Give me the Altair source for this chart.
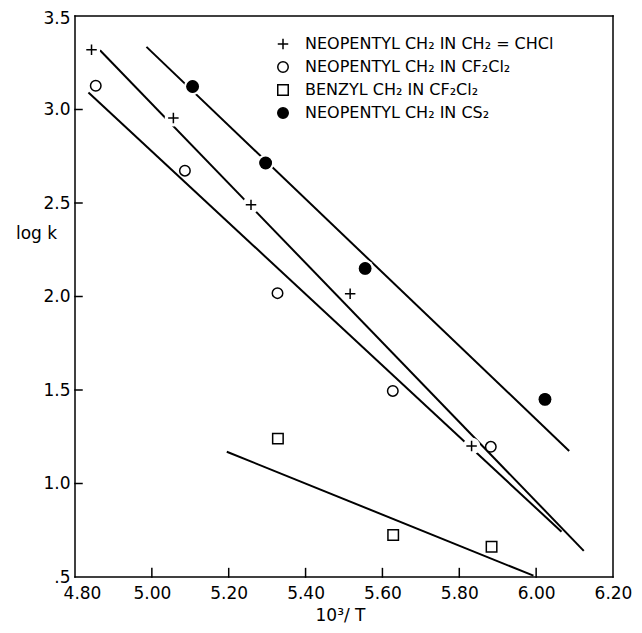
import altair as alt
import pandas as pd

LABELS = [
    "NEOPENTYL CH₂ IN CH₂ = CHCl",
    "NEOPENTYL CH₂ IN CF₂Cl₂",
    "BENZYL CH₂ IN CF₂Cl₂",
    "NEOPENTYL CH₂ IN CS₂",
]

# data points (10^3/T, log k)
plus_x = [4.843, 5.056, 5.258, 5.516, 5.832]
plus_y = [3.32, 2.955, 2.49, 2.015, 1.20]
open_x = [4.854, 5.086, 5.327, 5.627, 5.882]
open_y = [3.127, 2.673, 2.018, 1.495, 1.196]
sq_x = [5.328, 5.628, 5.884]
sq_y = [1.24, 0.724, 0.662]
fill_x = [5.106, 5.296, 5.555, 6.023]
fill_y = [3.123, 2.714, 2.15, 1.450]

# fitted lines (end points)
line_plus_x = [4.865, 6.124]
line_plus_y = [3.317, 0.640]
line_open_x = [4.835, 6.066]
line_open_y = [3.091, 0.742]
line_sq_x = [5.195, 5.993]
line_sq_y = [1.17, 0.507]
line_fill_x = [4.986, 6.086]
line_fill_y = [3.335, 1.174]

x_labels = [4.8, 5.0, 5.2, 5.4, 5.6, 5.8, 6.0, 6.2]
y_labels = [0.5, 1.0, 1.5, 2.0, 2.5, 3.0, 3.5]
x_ticks = [5.0, 5.2, 5.4, 5.6, 5.8, 6.0]
y_ticks = [1.0, 1.5, 2.0, 2.5, 3.0]
X_MIN, X_MAX, Y_MIN, Y_MAX = 4.8, 6.2, 0.5, 3.5

rows = []
for lab, xs_, ys_ in zip(LABELS, [plus_x, open_x, sq_x, fill_x], [plus_y, open_y, sq_y, fill_y]):
    for a, b in zip(xs_, ys_):
        rows.append({"series": lab, "x": a, "y": b})
pts = pd.DataFrame(rows)

lrows = []
for lab, xs_, ys_ in zip(LABELS, [line_plus_x, line_open_x, line_sq_x, line_fill_x],
                         [line_plus_y, line_open_y, line_sq_y, line_fill_y]):
    for a, b in zip(xs_, ys_):
        lrows.append({"series": lab, "x": a, "y": b})
lines = pd.DataFrame(lrows)

# frame and short inward tick segments (tick length as a fraction of the axis span)
trows = []
frame = [("b", X_MIN, Y_MIN, X_MAX, Y_MIN), ("r", X_MAX, Y_MIN, X_MAX, Y_MAX),
         ("t", X_MIN, Y_MAX, X_MAX, Y_MAX), ("l", X_MIN, Y_MIN, X_MIN, Y_MAX)]
for name, x0, y0, x1, y1 in frame:
    trows.append({"seg": "f" + name, "o": 0, "x": x0, "y": y0})
    trows.append({"seg": "f" + name, "o": 1, "x": x1, "y": y1})
for v in x_ticks:
    trows.append({"seg": f"x{v}", "o": 0, "x": v, "y": Y_MIN})
    trows.append({"seg": f"x{v}", "o": 1, "x": v, "y": Y_MIN + (Y_MAX - Y_MIN) * 0.015})
for v in y_ticks:
    trows.append({"seg": f"y{v}", "o": 0, "x": X_MIN, "y": v})
    trows.append({"seg": f"y{v}", "o": 1, "x": X_MIN + (X_MAX - X_MIN) * 0.013, "y": v})
segs = pd.DataFrame(trows)

W, H = 538, 561
FONT = "DejaVu Sans"

xs = alt.Scale(domain=[X_MIN, X_MAX], nice=False, zero=False)
ys = alt.Scale(domain=[Y_MIN, Y_MAX], nice=False, zero=False)

xaxis = alt.Axis(values=x_labels, format=".2f", title="10³/ T", labelPadding=8,
                 labelOffset={"condition": {"test": "datum.value < 4.9", "value": 7}, "value": 0},
                 titleX=265, titleY=38, titleAnchor="start", titleAlign="center",
                 titleBaseline="middle", labelFlush=False, ticks=False, domain=False, grid=False)
yaxis = alt.Axis(values=y_labels,
                 labelExpr="datum.value == 0.5 ? '.5' : format(datum.value, '.1f')",
                 labelOffset={"condition": {"test": "datum.value > 3.4", "value": 2}, "value": 0},
                 title="log k", titleAngle=0, titleX=-39, titleY=217, titleAlign="center",
                 titleBaseline="middle", labelPadding=5, labelFlush=False,
                 ticks=False, domain=False, grid=False)

X = alt.X("x:Q", scale=xs, axis=xaxis)
Y = alt.Y("y:Q", scale=ys, axis=yaxis)

seg_layer = alt.Chart(segs).mark_line(color="black", strokeWidth=1.5, strokeCap="square").encode(
    x=X, y=Y, detail="seg:N", order="o:Q"
)

line_layer = alt.Chart(lines).mark_line(color="black", strokeWidth=2).encode(
    x=X, y=Y, detail="series:N"
)

halo = alt.Chart(pts).transform_filter(
    alt.FieldOneOfPredicate(field="series", oneOf=[LABELS[0], LABELS[3]])
).mark_circle(color="white", opacity=1, size=300).encode(x=X, y=Y)

legend = alt.Legend(title=None, orient="none", legendX=200, legendY=20,
                    labelFont=FONT, labelFontSize=16, labelColor="black",
                    symbolStrokeWidth=1.5,
                    rowPadding=5, labelOffset=14, padding=0, symbolSize=110,
                    labelLimit=400)

shape_range = ["M-1,0H1M0,-1V1", "circle", "square", "circle"]
fill_range = ["white", "white", "white", "black"]
stroke_range = ["black", "black", "black", "black"]

markers = alt.Chart(pts).mark_point(filled=True, strokeWidth=1.5, opacity=1, size=110).encode(
    x=X, y=Y,
    shape=alt.Shape("series:N", scale=alt.Scale(domain=LABELS, range=shape_range), legend=legend),
    fill=alt.Fill("series:N", scale=alt.Scale(domain=LABELS, range=fill_range), legend=legend),
    stroke=alt.Stroke("series:N", scale=alt.Scale(domain=LABELS, range=stroke_range), legend=legend),
)

# filled CS2 dots are drawn slightly larger in the original
big_dots = alt.Chart(pts).transform_filter(
    alt.FieldEqualPredicate(field="series", equal=LABELS[3])
).mark_circle(color="black", opacity=1, size=165).encode(x=X, y=Y)

chart = alt.layer(line_layer, halo, markers, big_dots, seg_layer).properties(
    width=W, height=H,
    autosize=alt.AutoSizeParams(type="none"),
    padding={"left": 67, "top": 8, "right": 21, "bottom": 48},
    background="white",
).configure_view(
    strokeWidth=0
).configure_axis(
    domain=False, ticks=False, grid=False,
    labelFont=FONT, labelFontSize=17, labelColor="black",
    titleFont=FONT, titleFontSize=17, titleFontWeight="normal", titleColor="black",
)

chart.save("out.html", embed_options={"renderer": "svg", "actions": False})
